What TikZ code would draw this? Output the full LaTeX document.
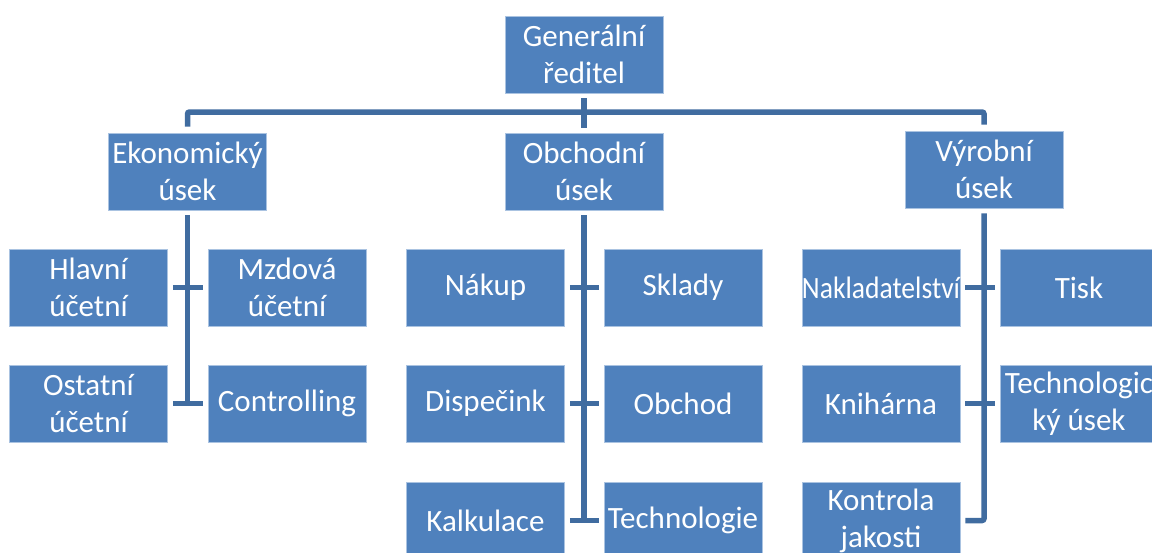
\documentclass[tikz,border=0pt]{standalone}
\usepackage{fontspec}
\setmainfont{Carlito}
\definecolor{boxblue}{RGB}{79,129,189}
\definecolor{linkblue}{RGB}{64,108,160}
\definecolor{edgeblue}{RGB}{170,195,225}
\begin{document}
\begin{tikzpicture}[x=1pt,y=-1pt,
  orgbox/.style={rectangle, fill=boxblue, draw=edgeblue, line width=0.8pt,
    minimum width=158pt, minimum height=77pt, inner sep=0pt,
    align=center, text=white, font=\fontsize{31}{37}\selectfont},
  link/.style={draw=linkblue, line width=5.5pt, rounded corners=2pt}]
\useasboundingbox (0,0) rectangle (1152,552);
\clip (0,0) rectangle (1152,552);
% top level
\node[orgbox] (gen) at (584,54.5) {Generální\\ředitel};
% second level
\node[orgbox] (eko) at (187.5,171.5) {Ekonomický\\úsek};
\node[orgbox] (obc) at (584,171.5) {Obchodní\\úsek};
\node[orgbox] (vyr) at (984,169.5) {Výrobní\\úsek};
% economic
\node[orgbox] (hla) at (88.5,287.5) {Hlavní\\účetní};
\node[orgbox] (mzd) at (287,287.5) {Mzdová\\účetní};
\node[orgbox] (ost) at (88.5,403.5) {Ostatní\\účetní};
\node[orgbox] (con) at (287,403.5) {Controlling};
% commercial
\node[orgbox] (nak) at (485.5,287.5) {Nákup};
\node[orgbox] (skl) at (683,287.5) {Sklady};
\node[orgbox] (dis) at (485.5,403.5) {Dispečink};
\node[orgbox] (obd) at (683,403.5) {Obchod};
\node[orgbox] (kal) at (485.5,520.5) {Kalkulace};
\node[orgbox] (tec) at (683,520.5) {Technologie};
% production
\node[orgbox] (nkl) at (881,287.5) {\scalebox{0.89}[1]{Nakladatelství}};
\node[orgbox] (tis) at (1079,287.5) {Tisk};
\node[orgbox] (kni) at (881,403.5) {Knihárna};
\node[orgbox] (tku) at (1079,403.5) {Technologic\\ký úsek};
\node[orgbox] (kon) at (881,520.5) {Kontrola\\jakosti};
% connectors top
\coordinate (bar) at (584,112);
\draw[link] ([yshift=6pt]eko.north) |- (bar) -| ([yshift=6pt]vyr.north);
\draw[link] ([yshift=-5pt]gen.south) -- ([yshift=5pt]obc.north);
% economic column
\draw[link] ([yshift=-5pt]eko.south) -- (eko.south |- ost.east);
\draw[link] ([xshift=5pt]hla.east) -- ([xshift=-5pt]mzd.west);
\draw[link] ([xshift=5pt]ost.east) -- ([xshift=-5pt]con.west);
% commercial column
\draw[link] ([yshift=-5pt]obc.south) -- (obc.south |- kal.east);
\draw[link] ([xshift=5pt]nak.east) -- ([xshift=-5pt]skl.west);
\draw[link] ([xshift=5pt]dis.east) -- ([xshift=-5pt]obd.west);
\draw[link] ([xshift=5pt]kal.east) -- ([xshift=-5pt]tec.west);
% production column
\draw[link] ([yshift=-5pt]vyr.south) |- ([xshift=5pt]kon.east);
\draw[link] ([xshift=5pt]nkl.east) -- ([xshift=-5pt]tis.west);
\draw[link] ([xshift=5pt]kni.east) -- ([xshift=-5pt]tku.west);
\end{tikzpicture}
\end{document}
